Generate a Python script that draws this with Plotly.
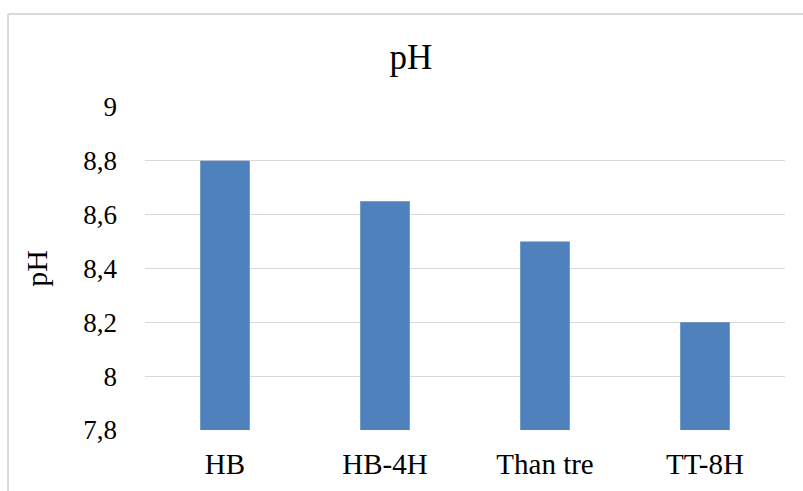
import plotly.graph_objects as go

categories = ["HB", "HB-4H", "Than tre", "TT-8H"]
ph_values = [8.8, 8.65, 8.5, 8.2]
y_ticks = [7.8, 8.0, 8.2, 8.4, 8.6, 8.8, 9.0]

font_family = "Liberation Serif, Times New Roman, serif"

fig = go.Figure(
    go.Bar(
        x=categories,
        y=ph_values,
        marker=dict(color="#4F81BD", line=dict(width=0)),
    )
)

fig.update_layout(
    width=803,
    height=491,
    margin=dict(l=145, r=18, t=107, b=61),
    paper_bgcolor="white",
    plot_bgcolor="white",
    separators=", ",
    bargap=0.69,
    showlegend=False,
    font=dict(family=font_family, color="#000000"),
    title=dict(
        text="pH",
        xref="paper",
        x=0.4156,
        xanchor="center",
        y=0.885,
        yanchor="middle",
        font=dict(size=35, family=font_family, color="#000000"),
    ),
    xaxis=dict(
        showgrid=False,
        showline=False,
        ticks="",
        tickfont=dict(size=29, family=font_family, color="#000000"),
        ticklabelstandoff=14,
    ),
    yaxis=dict(
        range=[7.8, 9.0],
        tickvals=y_ticks,
        showgrid=True,
        gridcolor="#D9D9D9",
        gridwidth=1,
        zeroline=False,
        showline=False,
        ticks="",
        ticklabelstandoff=27,
        tickfont=dict(size=27, family=font_family, color="#000000"),
        title=dict(
            text="pH",
            standoff=26,
            font=dict(size=30, family=font_family, color="#000000"),
        ),
    ),
    shapes=[
        dict(type="line", xref="paper", yref="paper",
             x0=-0.214, x1=1.05, y0=1.288, y1=1.288,
             line=dict(color="#D9D9D9", width=2)),
        dict(type="line", xref="paper", yref="paper",
             x0=-0.214, x1=-0.214, y0=-0.3, y1=1.288,
             line=dict(color="#D9D9D9", width=2)),
    ],
)

fig.write_html("out.html")
